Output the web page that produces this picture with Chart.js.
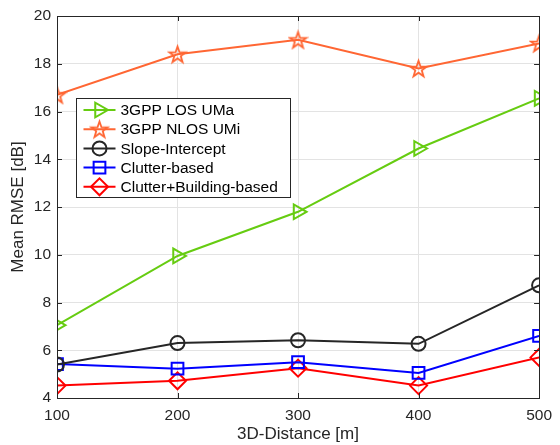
<!DOCTYPE html>
<html>
<head>
<meta charset="utf-8">
<script src="https://cdn.jsdelivr.net/npm/chart.js@4.4.1/dist/chart.umd.min.js"></script>
<style>
  html, body { margin: 0; padding: 0; background: #fff; }
  #wrap { width: 560px; height: 445px; }
</style>
</head>
<body>
<div id="wrap"><canvas id="chart" width="560" height="445"></canvas></div>
<script>
// Data
const distances = [100, 200, 300, 400, 500];
const losUMa = [7.05, 9.95, 11.8, 14.45, 16.55];
const nlosUMi = [16.7, 18.4, 19.0, 17.8, 18.85];
const slopeIntercept = [5.4, 6.3, 6.42, 6.27, 8.72];
const clutterBased = [5.42, 5.23, 5.5, 5.05, 6.6];
const clutterBuilding = [4.52, 4.72, 5.25, 4.52, 5.7];
const yTicks = [4, 6, 8, 10, 12, 14, 16, 18, 20];

const FONT = 'Liberation Sans, Arial, Helvetica, sans-serif';
const TEXT = '#262626';

// Open pentagram marker (Chart.js 'star' is an asterisk)
function makePentagram(color, r) {
    const c = document.createElement('canvas');
    const s = Math.ceil(r * 2 + 4);
    c.width = s; c.height = s;
    const g = c.getContext('2d');
    g.strokeStyle = color;
    g.lineWidth = 1.8;
    g.lineJoin = 'miter';
    g.beginPath();
    for (let i = 0; i < 10; i++) {
        const rr = i % 2 === 0 ? r : r * 0.4;
        const a = -Math.PI / 2 + i * Math.PI / 5;
        const px = s / 2 + rr * Math.cos(a), py = s / 2 + 0.8 + rr * Math.sin(a);
        i === 0 ? g.moveTo(px, py) : g.lineTo(px, py);
    }
    g.closePath();
    g.stroke();
    return c;
}

function toPoints(arr) {
    return arr.map((v, i) => ({ x: distances[i], y: v }));
}

const seriesDefs = [
    { label: '3GPP LOS UMa', data: losUMa, color: '#66CC11', pointStyle: 'triangle', rotation: 90, radius: 8.5 },
    { label: '3GPP NLOS UMi', data: nlosUMi, color: '#FF6633', pointStyle: makePentagram('#FF6633', 8.5), rotation: 0, radius: 8 },
    { label: 'Slope-Intercept', data: slopeIntercept, color: '#262626', pointStyle: 'circle', rotation: 0, radius: 7 },
    { label: 'Clutter-based', data: clutterBased, color: '#0000FF', pointStyle: 'rect', rotation: 0, radius: 8.3 },
    { label: 'Clutter+Building-based', data: clutterBuilding, color: '#FF0000', pointStyle: 'rectRot', rotation: 0, radius: 8.5 }
];

const datasets = seriesDefs.map(s => ({
    label: s.label,
    data: toPoints(s.data),
    borderColor: s.color,
    backgroundColor: 'rgba(0,0,0,0)',
    borderWidth: 2,
    pointStyle: s.pointStyle,
    pointRotation: s.rotation,
    pointRadius: s.radius,
    pointBorderWidth: 2,
    pointBackgroundColor: 'rgba(0,0,0,0)',
    pointBorderColor: s.color,
    tension: 0,
    fill: false
}));

// Frame, inward ticks and MATLAB-style legend box
const matlabFrame = {
    id: 'matlabFrame',
    afterDraw(chart) {
        const ctx = chart.ctx;
        const a = chart.chartArea;
        const xs = chart.scales.x, ys = chart.scales.y;
        ctx.save();
        ctx.strokeStyle = TEXT;
        ctx.lineWidth = 1;
        ctx.strokeRect(Math.round(a.left) + 0.5, Math.round(a.top) + 0.5,
            Math.round(a.right - a.left), Math.round(a.bottom - a.top));
        ctx.beginPath();
        for (const v of distances) {
            const px = Math.round(xs.getPixelForValue(v)) + 0.5;
            ctx.moveTo(px, a.bottom); ctx.lineTo(px, a.bottom - 5);
            ctx.moveTo(px, a.top); ctx.lineTo(px, a.top + 5);
        }
        for (const v of yTicks) {
            const py = Math.round(ys.getPixelForValue(v)) + 0.5;
            ctx.moveTo(a.left, py); ctx.lineTo(a.left + 5, py);
            ctx.moveTo(a.right, py); ctx.lineTo(a.right - 5, py);
        }
        ctx.stroke();

        // Legend
        const bx = 76.5, by = 98.5, bw = 214, bh = 99, rowH = 19.2;
        ctx.fillStyle = '#fff';
        ctx.fillRect(bx, by, bw, bh);
        ctx.strokeStyle = TEXT;
        ctx.strokeRect(bx, by, bw, bh);
        ctx.font = '15.5px ' + FONT;
        ctx.textBaseline = 'middle';
        chart.data.datasets.forEach((ds, i) => {
            const cy = by + 11.5 + i * rowH;
            ctx.strokeStyle = ds.borderColor;
            ctx.lineWidth = 2;
            ctx.beginPath();
            ctx.moveTo(bx + 7, cy); ctx.lineTo(bx + 39, cy);
            ctx.stroke();
            ctx.fillStyle = 'rgba(0,0,0,0)';
            Chart.helpers.drawPoint(ctx, {
                pointStyle: ds.pointStyle,
                rotation: ds.pointRotation,
                radius: ds.pointRadius,
                borderWidth: 2
            }, bx + 23, cy);
            ctx.fillStyle = '#000';
            ctx.fillText(ds.label, bx + 44, cy + 1);
        });
        ctx.restore();
    }
};

new Chart(document.getElementById('chart'), {
    type: 'line',
    data: { datasets },
    options: {
        responsive: false,
        animation: false,
        events: [],
        layout: { padding: { top: 16, right: 19, left: 0, bottom: 0 } },
        plugins: { legend: { display: false }, tooltip: { enabled: false } },
        scales: {
            x: {
                type: 'linear',
                min: 100, max: 500,
                afterBuildTicks: s => { s.ticks = distances.map(v => ({ value: v })); },
                afterFit: s => { s.height = 47; },
                grid: { color: '#e3e3e3', drawTicks: false },
                border: { display: false },
                ticks: { color: TEXT, font: { family: FONT, size: 15.5 }, padding: 8, maxRotation: 0 },
                title: { display: true, text: '3D-Distance [m]', color: TEXT, font: { family: FONT, size: 17 }, padding: { top: 0, bottom: 0 } }
            },
            y: {
                min: 4, max: 20,
                afterBuildTicks: s => { s.ticks = yTicks.map(v => ({ value: v })); },
                afterFit: s => { s.width = 57; },
                grid: { color: '#e3e3e3', drawTicks: false },
                border: { display: false },
                ticks: { color: TEXT, font: { family: FONT, size: 15.5 }, padding: 6 },
                title: { display: true, text: 'Mean RMSE [dB]', color: TEXT, font: { family: FONT, size: 17 }, padding: { top: 8, bottom: 0 } }
            }
        }
    },
    plugins: [matlabFrame]
});
</script>
</body>
</html>
